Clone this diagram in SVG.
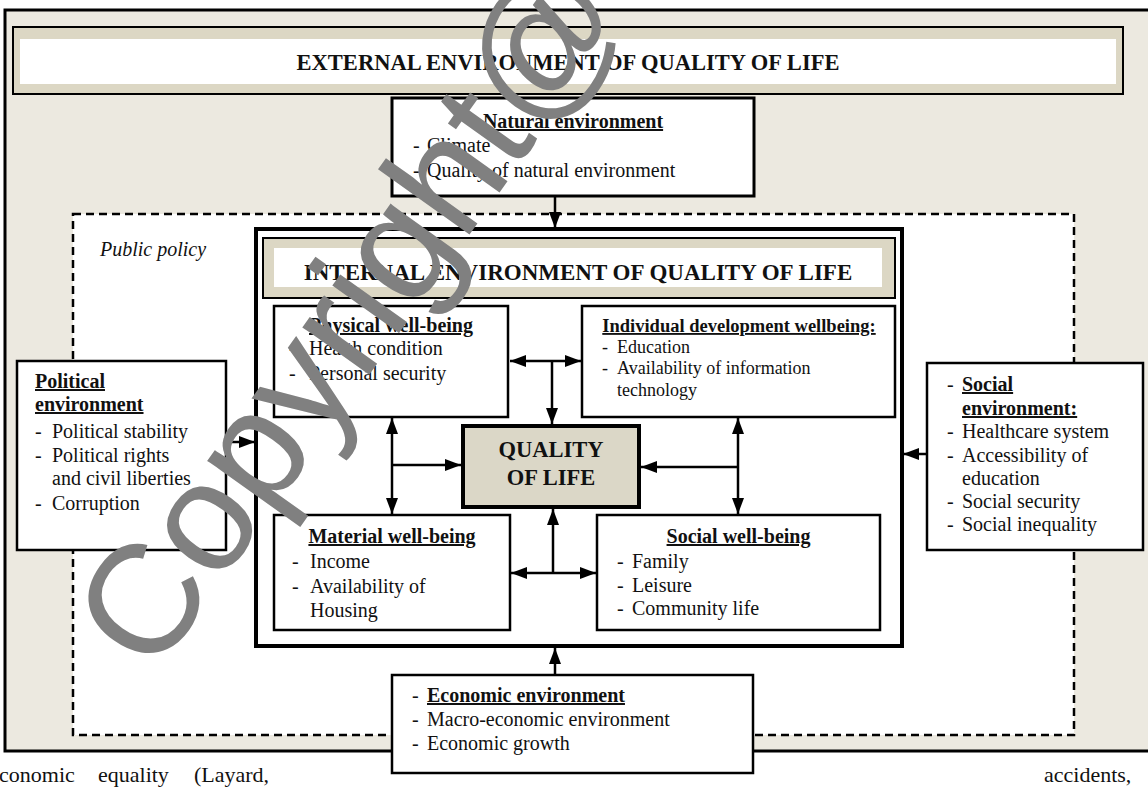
<svg xmlns="http://www.w3.org/2000/svg" width="1148" height="787" viewBox="0 0 1148 787">
<style>
text{font-family:"Liberation Serif","Times New Roman",serif;fill:#111;}
.t{font-size:20px;}
.s{font-size:18px;}
.b{font-weight:bold;}
.u{text-decoration:underline;}
.m{text-anchor:middle;}
.box{fill:#fff;stroke:#000;stroke-width:2.5;}
.hdr{fill:#DCD7C4;stroke:#000;stroke-width:2;}
.con{stroke:#000;stroke-width:2.5;fill:none;}
.wm{font-family:"Liberation Sans",Arial,sans-serif;font-size:155px;fill:#808080;}
</style>
<defs>
<marker id="ah" markerUnits="userSpaceOnUse" markerWidth="16" markerHeight="12" refX="16" refY="6" orient="auto-start-reverse">
<path d="M0,0 L16,6 L0,12 z" fill="#000"/>
</marker>
</defs>

<g id="frame">
<rect x="5" y="10" width="1160" height="741" fill="#ECE9E0" stroke="#000" stroke-width="3"/>
</g>
<g id="external-header">
<rect class="hdr" x="13" y="27" width="1110" height="67"/>
<rect x="20" y="39" width="1096" height="45" fill="#fff"/>
<text class="b m" x="568" y="70" font-size="22.5">EXTERNAL ENVIRONMENT OF QUALITY OF LIFE</text>
</g>
<g id="public-policy">
<rect x="73" y="214" width="1001" height="521" fill="#fff" stroke="#000" stroke-width="2.5" stroke-dasharray="8 5"/>
<text x="100" y="256" font-size="20" font-style="italic">Public policy</text>
</g>
<g id="natural-environment">
<rect x="392" y="98" width="362" height="98" fill="#fff" stroke="#000" stroke-width="3"/>
<text class="t b u m" x="573" y="128">Natural environment</text>
<text class="t" x="413" y="152">-</text><text class="t" x="427" y="152">Climate</text>
<text class="t" x="413" y="177">-</text><text class="t" x="427" y="177">Quality of natural environment</text>
</g>
<g id="internal-environment">
<rect x="256" y="229" width="646" height="417" fill="#fff" stroke="#000" stroke-width="4"/>
<rect class="hdr" x="263" y="238" width="632" height="60"/>
<rect x="274" y="248" width="608" height="39" fill="#fff"/>
<text class="b m" x="578" y="280" font-size="23">INTERNAL ENVIRONMENT OF QUALITY OF LIFE</text>
</g>
<g id="physical-wellbeing">
<rect class="box" x="274" y="306" width="234" height="111"/>
<text class="t b u m" x="391" y="332">Physical well-being</text>
<text class="t" x="289" y="355">-</text><text class="t" x="309" y="355">Health condition</text>
<text class="t" x="289" y="380">-</text><text class="t" x="309" y="380">Personal security</text>
</g>
<g id="individual-development">
<rect class="box" x="582" y="306" width="313" height="111"/>
<text class="b u m" x="739" y="332" font-size="18.5">Individual development wellbeing:</text>
<text class="s" x="602" y="353">-</text><text class="s" x="617" y="353">Education</text>
<text class="s" x="602" y="374">-</text><text class="s" x="617" y="374">Availability of information</text>
<text class="s" x="617" y="396">technology</text>
</g>
<g id="quality-of-life">
<rect x="463" y="426" width="176" height="81" fill="#DBD7C7" stroke="#000" stroke-width="4"/>
<text class="b m" x="551" y="457" font-size="22.5">QUALITY</text>
<text class="b m" x="551" y="485" font-size="22.5">OF LIFE</text>
</g>
<g id="material-wellbeing">
<rect class="box" x="274" y="515" width="236" height="115"/>
<text class="t b u m" x="392" y="543">Material well-being</text>
<text class="t" x="292" y="568">-</text><text class="t" x="310" y="568">Income</text>
<text class="t" x="292" y="593">-</text><text class="t" x="310" y="593">Availability of</text>
<text class="t" x="310" y="617">Housing</text>
</g>
<g id="social-wellbeing">
<rect class="box" x="597" y="515" width="283" height="115"/>
<text class="t b u m" x="738.5" y="543">Social well-being</text>
<text class="t" x="617" y="568">-</text><text class="t" x="632" y="568">Family</text>
<text class="t" x="617" y="592">-</text><text class="t" x="632" y="592">Leisure</text>
<text class="t" x="617" y="615">-</text><text class="t" x="632" y="615">Community life</text>
</g>
<g id="political-environment">
<rect class="box" x="17" y="361" width="209" height="189"/>
<text class="t b u" x="35" y="388">Political</text>
<text class="t b u" x="35" y="411">environment</text>
<text class="t" x="35" y="438">-</text><text class="t" x="52" y="438">Political stability</text>
<text class="t" x="35" y="462">-</text><text class="t" x="52" y="462">Political rights</text>
<text class="t" x="52" y="485">and civil liberties</text>
<text class="t" x="35" y="510">-</text><text class="t" x="52" y="510">Corruption</text>
</g>
<g id="social-environment">
<rect class="box" x="927" y="363" width="216" height="187"/>
<text class="t" x="947" y="391">-</text><text class="t b u" x="962" y="391">Social</text>
<text class="t b u" x="962" y="415">environment:</text>
<text class="t" x="947" y="438">-</text><text class="t" x="962" y="438">Healthcare system</text>
<text class="t" x="947" y="462">-</text><text class="t" x="962" y="462">Accessibility of</text>
<text class="t" x="962" y="485">education</text>
<text class="t" x="947" y="508">-</text><text class="t" x="962" y="508">Social security</text>
<text class="t" x="947" y="531">-</text><text class="t" x="962" y="531">Social inequality</text>
</g>
<g id="economic-environment">
<rect class="box" x="392" y="675" width="361" height="98"/>
<text class="t" x="412" y="702">-</text><text class="t b u" x="427" y="702">Economic environment</text>
<text class="t" x="412" y="726">-</text><text class="t" x="427" y="726">Macro-economic environment</text>
<text class="t" x="412" y="750">-</text><text class="t" x="427" y="750">Economic growth</text>
</g>
<g id="connectors">
<line class="con" x1="555" y1="196" x2="555" y2="228" marker-end="url(#ah)"/>
<line class="con" x1="226" y1="442" x2="255" y2="442" marker-end="url(#ah)"/>
<line class="con" x1="927" y1="454" x2="903" y2="454" marker-end="url(#ah)"/>
<line class="con" x1="555" y1="675" x2="555" y2="648" marker-end="url(#ah)"/>
<line class="con" x1="510" y1="361" x2="581" y2="361" marker-start="url(#ah)" marker-end="url(#ah)"/>
<line class="con" x1="552" y1="361" x2="552" y2="424" marker-end="url(#ah)"/>
<line class="con" x1="392" y1="418" x2="392" y2="514" marker-start="url(#ah)" marker-end="url(#ah)"/>
<line class="con" x1="392" y1="465" x2="461" y2="465" marker-end="url(#ah)"/>
<line class="con" x1="738" y1="418" x2="738" y2="514" marker-start="url(#ah)" marker-end="url(#ah)"/>
<line class="con" x1="738" y1="467" x2="641" y2="467" marker-end="url(#ah)"/>
<line class="con" x1="553" y1="573" x2="553" y2="509" marker-end="url(#ah)"/>
<line class="con" x1="511" y1="573" x2="596" y2="573" marker-start="url(#ah)" marker-end="url(#ah)"/>
</g>
<g id="page-text">
<text x="-1" y="782" font-size="22">conomic</text>
<text x="98" y="782" font-size="22">equality</text>
<text x="194" y="782" font-size="22">(Layard,</text>
<text x="1044" y="782" font-size="22">accidents,</text>
</g>
<g id="watermark">
<text class="wm" transform="translate(153,678) rotate(-54.5)" x="0" y="0">Copyright@</text>
</g>
</svg>
